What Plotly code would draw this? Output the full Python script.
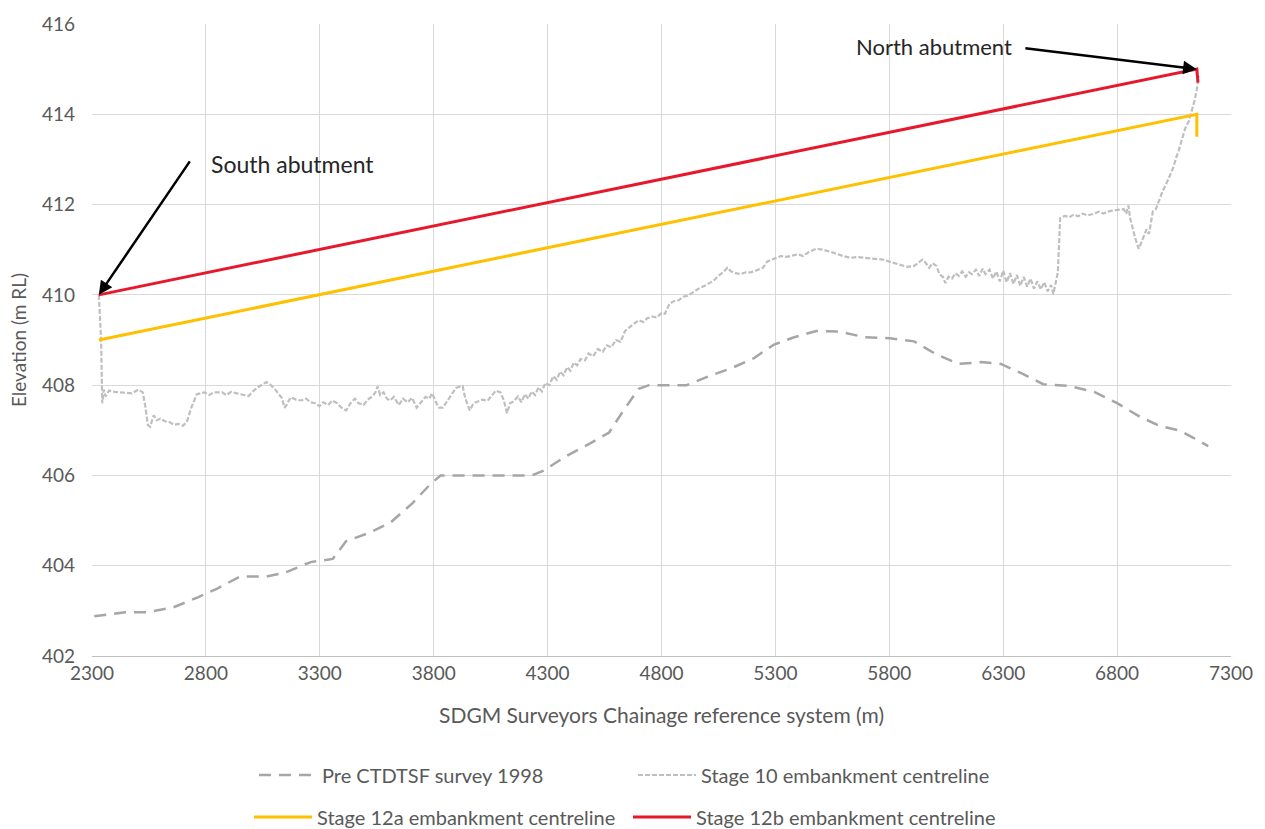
import plotly.graph_objects as go

# Pre CTDTSF survey 1998 (chainage m, elevation m RL)
pre_x = [2310, 2445, 2542, 2658, 2765, 2852, 2950, 3066, 3143, 3260, 3357, 3415, 3512, 3609,
         3706, 3784, 3830, 4230, 4280, 4386, 4483, 4570, 4628, 4700, 4745, 4910, 5010, 5109,
         5206, 5294, 5382, 5480, 5577, 5694, 5802, 5909, 6007, 6105, 6202, 6290, 6386, 6476,
         6593, 6700, 6800, 6900, 6986, 7071, 7129, 7200]
pre_y = [402.88, 402.97, 402.97, 403.08, 403.30, 403.50, 403.76, 403.76, 403.84, 404.08, 404.15,
         404.54, 404.72, 404.95, 405.38, 405.80, 406.00, 406.00, 406.10, 406.44, 406.70, 406.95,
         407.40, 407.92, 408.00, 408.00, 408.20, 408.38, 408.60, 408.90, 409.06, 409.20, 409.19,
         409.06, 409.04, 408.97, 408.68, 408.47, 408.51, 408.47, 408.25, 408.02, 407.98, 407.85,
         407.60, 407.30, 407.10, 407.00, 406.85, 406.65]

# Stage 10 embankment centreline
s10_x = [2330, 2340, 2345, 2352, 2360, 2375, 2400, 2445, 2475, 2503, 2523, 2535, 2545, 2555,
         2571, 2585, 2600, 2620, 2640, 2660, 2680, 2700, 2717, 2736, 2760, 2795, 2815, 2833,
         2872, 2890, 2910, 2950, 2988, 3010, 3027, 3050, 3066, 3085, 3105, 3120, 3133, 3145,
         3153, 3172, 3195, 3220, 3240, 3260, 3280, 3298, 3315, 3337, 3355, 3376, 3395, 3415,
         3435, 3454, 3470, 3492, 3510, 3531, 3545, 3554, 3565, 3580, 3595, 3609, 3625, 3647,
         3665, 3686, 3705, 3725, 3745, 3764, 3780, 3793, 3810, 3823, 3840, 3862, 3880, 3898,
         3910, 3927, 3939, 3950, 3958, 3975, 3997, 4015, 4036, 4055, 4073, 4093, 4108, 4122,
         4135, 4151, 4170, 4185, 4200, 4215, 4230, 4245, 4260, 4275, 4290, 4308, 4325, 4340,
         4355, 4370, 4386, 4400, 4415, 4430, 4445, 4464, 4480, 4500, 4520, 4542, 4560, 4580,
         4600, 4620, 4640, 4659, 4680, 4700, 4720, 4737, 4760, 4780, 4800, 4815, 4835, 4854,
         4875, 4895, 4915, 4933, 4950, 4970, 4990, 5011, 5030, 5050, 5070, 5089, 5105, 5125,
         5147, 5170, 5190, 5206, 5225, 5245, 5265, 5285, 5305, 5323, 5350, 5382, 5400, 5421,
         5450, 5480, 5510, 5538, 5570, 5597, 5630, 5660, 5694, 5730, 5773, 5810, 5851, 5880,
         5909, 5930, 5945, 5958, 5975, 5990, 6007, 6020, 6035, 6046, 6060, 6075, 6090, 6105,
         6120, 6135, 6150, 6163, 6180, 6195, 6210, 6222, 6240, 6255, 6270, 6285, 6300, 6315,
         6330, 6345, 6360, 6375, 6390, 6405, 6420, 6435, 6450, 6465, 6480, 6495, 6510, 6520,
         6530, 6540, 6545, 6550, 6571, 6590, 6610, 6629, 6650, 6670, 6700, 6720, 6740, 6771,
         6800, 6829, 6840, 6850, 6857, 6864, 6880, 6895, 6910, 6929, 6940, 6957, 6970, 6986,
         7000, 7015, 7029, 7045, 7060, 7071, 7085, 7100, 7115, 7129, 7140, 7150, 7158]
s10_y = [410.00, 409.00, 407.60, 407.90, 407.75, 407.88, 407.85, 407.84, 407.82, 407.90, 407.84,
         407.50, 407.12, 407.08, 407.33, 407.22, 407.26, 407.20, 407.18, 407.12, 407.14, 407.10,
         407.20, 407.50, 407.80, 407.84, 407.78, 407.84, 407.84, 407.78, 407.85, 407.80, 407.76,
         407.88, 407.95, 408.02, 408.07, 408.00, 407.90, 407.80, 407.72, 407.50, 407.55, 407.73,
         407.68, 407.66, 407.70, 407.62, 407.60, 407.53, 407.62, 407.56, 407.66, 407.60, 407.50,
         407.44, 407.60, 407.70, 407.60, 407.56, 407.68, 407.75, 407.85, 407.97, 407.78, 407.84,
         407.70, 407.66, 407.74, 407.56, 407.70, 407.62, 407.72, 407.50, 407.62, 407.74, 407.70,
         407.82, 407.62, 407.50, 407.50, 407.66, 407.80, 407.94, 407.96, 407.98, 407.70, 407.52,
         407.44, 407.60, 407.64, 407.68, 407.65, 407.78, 407.88, 407.84, 407.66, 407.38, 407.60,
         407.64, 407.75, 407.62, 407.80, 407.70, 407.86, 407.78, 407.95, 407.86, 408.05, 408.00,
         408.20, 408.12, 408.30, 408.22, 408.40, 408.32, 408.50, 408.44, 408.58, 408.55, 408.70,
         408.64, 408.80, 408.74, 408.88, 408.84, 409.00, 408.96, 409.20, 409.28, 409.36, 409.44,
         409.40, 409.48, 409.52, 409.50, 409.60, 409.58, 409.80, 409.86, 409.88, 409.96, 409.98,
         410.04, 410.10, 410.16, 410.20, 410.26, 410.32, 410.42, 410.50, 410.60, 410.52, 410.48,
         410.46, 410.50, 410.50, 410.52, 410.56, 410.60, 410.74, 410.78, 410.82, 410.86, 410.84,
         410.88, 410.90, 410.86, 410.96, 411.02, 411.00, 410.96, 410.90, 410.86, 410.82, 410.84,
         410.82, 410.80, 410.78, 410.72, 410.66, 410.62, 410.64, 410.72, 410.78, 410.72, 410.60,
         410.70, 410.64, 410.46, 410.40, 410.26, 410.40, 410.36, 410.48, 410.42, 410.52, 410.40,
         410.50, 410.46, 410.56, 410.42, 410.58, 410.46, 410.56, 410.36, 410.52, 410.30, 410.54,
         410.28, 410.48, 410.24, 410.44, 410.20, 410.40, 410.18, 410.36, 410.14, 410.30, 410.12,
         410.28, 410.08, 410.22, 410.02, 410.30, 410.50, 411.10, 411.70, 411.75, 411.72, 411.78,
         411.74, 411.80, 411.76, 411.80, 411.84, 411.80, 411.86, 411.88, 411.90, 411.80, 411.98,
         411.70, 411.55, 411.25, 411.02, 411.20, 411.45, 411.35, 411.85, 411.90, 412.12, 412.30,
         412.45, 412.62, 412.80, 413.05, 413.20, 413.45, 413.70, 413.85, 414.08, 414.30, 414.55,
         414.85]

# Stage 12a / 12b embankment centrelines
s12a_x = [2330, 7150, 7150]
s12a_y = [409.0, 414.0, 413.5]
s12b_x = [2330, 7150, 7155]
s12b_y = [410.0, 415.0, 414.7]

x_ticks = [2300, 2800, 3300, 3800, 4300, 4800, 5300, 5800, 6300, 6800, 7300]
y_ticks = [402, 404, 406, 408, 410, 412, 414, 416]

FONT = "Lato"
GREY_TXT = "#595959"

fig = go.Figure()
fig.add_trace(go.Scatter(x=pre_x, y=pre_y, mode="lines", name="Pre CTDTSF survey 1998",
                         line=dict(color="#a6a6a6", width=2.5, dash="12px,8px"),
                         legend="legend"))
fig.add_trace(go.Scatter(x=s10_x, y=s10_y, mode="lines", name="Stage 10 embankment centreline",
                         line=dict(color="#bfbfbf", width=2.2, dash="5px,2px"),
                         legend="legend"))
fig.add_trace(go.Scatter(x=s12a_x, y=s12a_y, mode="lines", name="Stage 12a embankment centreline",
                         line=dict(color="#ffc000", width=3),
                         legend="legend2"))
fig.add_trace(go.Scatter(x=s12b_x, y=s12b_y, mode="lines", name="Stage 12b embankment centreline",
                         line=dict(color="#e8182c", width=3),
                         legend="legend2"))

# Abutment call-outs
fig.add_annotation(x=2330, y=410.0, text="", showarrow=True, arrowhead=2, arrowsize=1.1,
                   arrowwidth=2.5, arrowcolor="black", ax=92, ay=-135, standoff=0)
fig.add_annotation(x=2300, y=412.9, text="South abutment", showarrow=False,
                   xanchor="left", yanchor="middle", xshift=117,
                   font=dict(family=FONT, size=23, color="#262626"))
fig.add_annotation(x=7150, y=415.0, text="", showarrow=True, arrowhead=2, arrowsize=1.1,
                   arrowwidth=2.5, arrowcolor="black", ax=-173, ay=-21, standoff=0)
fig.add_annotation(x=7300, y=415.0, text="North abutment", showarrow=False,
                   xanchor="right", yanchor="middle", xshift=-217, yshift=23,
                   font=dict(family=FONT, size=22, color="#262626"))

legend_common = dict(orientation="h", xref="container", yref="container",
                     xanchor="left", yanchor="middle", entrywidth=306, itemwidth=58,
                     font=dict(family=FONT, size=20, color=GREY_TXT),
                     bgcolor="rgba(0,0,0,0)")

fig.update_layout(
    width=1265, height=829,
    margin=dict(l=92, r=33, t=20, b=173),
    paper_bgcolor="white", plot_bgcolor="white",
    font=dict(family=FONT, color=GREY_TXT),
    showlegend=True,
    legend=dict(x=254 / 1265, y=1 - 775 / 829, **legend_common),
    legend2=dict(x=249 / 1265, y=1 - 817 / 829, **legend_common),
    xaxis=dict(range=[2300, 7300], tickvals=x_ticks, ticktext=[str(v) for v in x_ticks],
               showgrid=True, gridcolor="#d9d9d9", gridwidth=1,
               showline=True, linecolor="#bfbfbf", linewidth=1, zeroline=False,
               tickfont=dict(family=FONT, size=19, color=GREY_TXT),
               title=dict(text="SDGM Surveyors Chainage reference system (m)",
                          font=dict(family=FONT, size=21, color=GREY_TXT), standoff=25)),
    yaxis=dict(range=[402, 416], tickvals=y_ticks, ticktext=[str(v) for v in y_ticks],
               showgrid=True, gridcolor="#d9d9d9", gridwidth=1,
               showline=False, zeroline=False, ticklabelstandoff=16,
               tickfont=dict(family=FONT, size=19, color=GREY_TXT),
               title=dict(text="Elevation (m RL)",
                          font=dict(family=FONT, size=19, color=GREY_TXT), standoff=10)),
)

fig.write_html("out.html")
